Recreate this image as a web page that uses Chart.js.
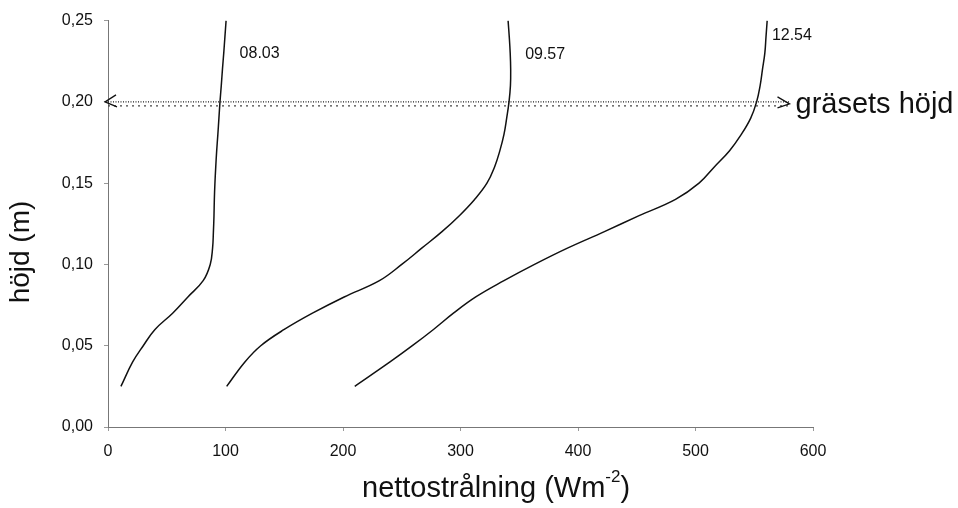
<!DOCTYPE html>
<html lang="sv">
<head>
<meta charset="utf-8">
<title>Nettostrålning och gräsets höjd</title>
<script src="https://cdn.jsdelivr.net/npm/chart.js@4.4.1/dist/chart.umd.min.js"></script>
<style>
  html, body { margin: 0; padding: 0; background: #fff; }
  #chart { display: block; }
</style>
</head>
<body>
<canvas id="chart" width="958" height="508"></canvas>
<script>
// höjd (m) where each profile was read
const heights = [0.025, 0.04, 0.05, 0.06, 0.07, 0.08, 0.09, 0.10, 0.11, 0.12, 0.13, 0.14,
  0.15, 0.16, 0.17, 0.18, 0.19, 0.20, 0.21, 0.22, 0.23, 0.24, 0.25];

// nettostrålning (Wm-2) per time of day
const rad0803 = [11, 21, 30, 40, 55, 68, 81, 87, 89, 89.7, 90.2, 90.5,
  91, 91.7, 92.5, 93.5, 94.4, 95.3, 96.4, 97.4, 98.5, 99.5, 100.5];
const rad0957 = [101, 116.5, 130, 150, 174, 201, 231, 250, 267, 284, 299, 312,
  322.5, 329, 333.5, 337, 339.3, 341.3, 342.5, 342.7, 342.3, 341.5, 340.5];
const rad1254 = [210, 240, 259, 277, 294, 313, 337, 363, 391, 422, 452, 483,
  503, 516, 529, 539, 547, 552, 555, 557, 559, 560, 561];

const seriesNames = ['08.03', '09.57', '12.54'];
const labelAtRad = [112, 355, 565];
const labelAtHeight = [0.230, 0.229, 0.2405];

const grassHeight = 0.20;
const grassArrowEnd = 580;

const xMax = 600;
const yMax = 0.25;

const FONT = 'Arial, "Liberation Sans", sans-serif';

function toPoints(xs) {
  return xs.map((x, i) => ({x: x, y: heights[i]}));
}

const profileSets = [rad0803, rad0957, rad1254].map((xs, i) => ({
  label: seriesNames[i],
  data: toPoints(xs),
  showLine: true,
  borderColor: '#111',
  borderWidth: 1.5,
  pointRadius: 0,
  tension: 0.4,
  fill: false
}));

const grassSets = [
  {
    label: 'gräs (prickad)',
    data: [{x: 0, y: grassHeight}, {x: grassArrowEnd, y: grassHeight}],
    showLine: true,
    borderColor: '#222',
    borderWidth: 1.3,
    borderDash: [1, 1.5],
    pointRadius: 0
  },
  {
    label: 'gräs (streckad)',
    data: [{x: 0, y: grassHeight - 0.0025}, {x: grassArrowEnd, y: grassHeight - 0.0025}],
    showLine: true,
    borderColor: '#444',
    borderWidth: 1.2,
    borderDash: [2, 4],
    pointRadius: 0
  }
];

const annotations = {
  id: 'annotations',
  afterDatasetsDraw(chart) {
    const ctx = chart.ctx;
    const xs = chart.scales.x;
    const ys = chart.scales.y;
    ctx.save();
    ctx.strokeStyle = '#111';
    ctx.fillStyle = '#111';
    ctx.lineWidth = 1.3;

    // arrow heads on the grass height line
    const yA = ys.getPixelForValue(grassHeight);
    const xL = xs.getPixelForValue(0) - 3;
    const xR = xs.getPixelForValue(grassArrowEnd);
    ctx.beginPath();
    ctx.moveTo(xL + 11, yA - 7);
    ctx.lineTo(xL, yA);
    ctx.lineTo(xL + 12, yA + 5);
    ctx.moveTo(xR - 12, yA - 5);
    ctx.lineTo(xR, yA + 2);
    ctx.lineTo(xR - 12, yA + 6);
    ctx.stroke();

    // time labels
    ctx.font = '16px ' + FONT;
    ctx.textAlign = 'left';
    ctx.textBaseline = 'middle';
    seriesNames.forEach((name, i) => {
      ctx.fillText(name, xs.getPixelForValue(labelAtRad[i]), ys.getPixelForValue(labelAtHeight[i]));
    });

    // gräsets höjd
    ctx.font = '29px ' + FONT;
    ctx.textBaseline = 'alphabetic';
    ctx.fillText('gräsets höjd', xR + 6, yA + 11);

    // x axis title with superscript
    ctx.font = '29px ' + FONT;
    const main = 'nettostrålning (Wm';
    let x = 362;
    ctx.fillText(main, x, 497);
    x += ctx.measureText(main).width;
    ctx.font = '17px ' + FONT;
    ctx.fillText('-2', x, 482);
    x += ctx.measureText('-2').width;
    ctx.font = '29px ' + FONT;
    ctx.fillText(')', x, 497);

    // y axis title
    ctx.translate(29, 252);
    ctx.rotate(-Math.PI / 2);
    ctx.font = '28px ' + FONT;
    ctx.textAlign = 'center';
    ctx.fillText('höjd (m)', 0, 0);
    ctx.restore();
  }
};

new Chart(document.getElementById('chart'), {
  type: 'scatter',
  data: {datasets: [...profileSets, ...grassSets]},
  options: {
    responsive: false,
    animation: false,
    devicePixelRatio: 1,
    layout: {padding: {top: 18, right: 145, left: 0, bottom: 0}},
    plugins: {
      legend: {display: false},
      tooltip: {enabled: false}
    },
    scales: {
      x: {
        type: 'linear',
        min: 0,
        max: xMax,
        afterFit(scale) { scale.height = 81; },
        grid: {display: true, drawOnChartArea: false, drawTicks: true, tickLength: 4, color: '#999'},
        border: {display: true, color: '#777', width: 1, dash: [1, 2]},
        ticks: {
          stepSize: 100,
          padding: 11,
          color: '#111',
          font: {size: 16, family: FONT},
          maxRotation: 0
        }
      },
      y: {
        type: 'linear',
        min: 0,
        max: yMax,
        afterFit(scale) { scale.width = 108; },
        grid: {display: true, drawOnChartArea: false, drawTicks: true, tickLength: 4, color: '#999'},
        border: {display: true, color: '#777', width: 1, dash: [1, 2]},
        ticks: {
          stepSize: 0.05,
          padding: 11,
          color: '#111',
          font: {size: 16, family: FONT},
          callback: (v) => v.toFixed(2).replace('.', ',')
        }
      }
    }
  },
  plugins: [annotations]
});
</script>
</body>
</html>
